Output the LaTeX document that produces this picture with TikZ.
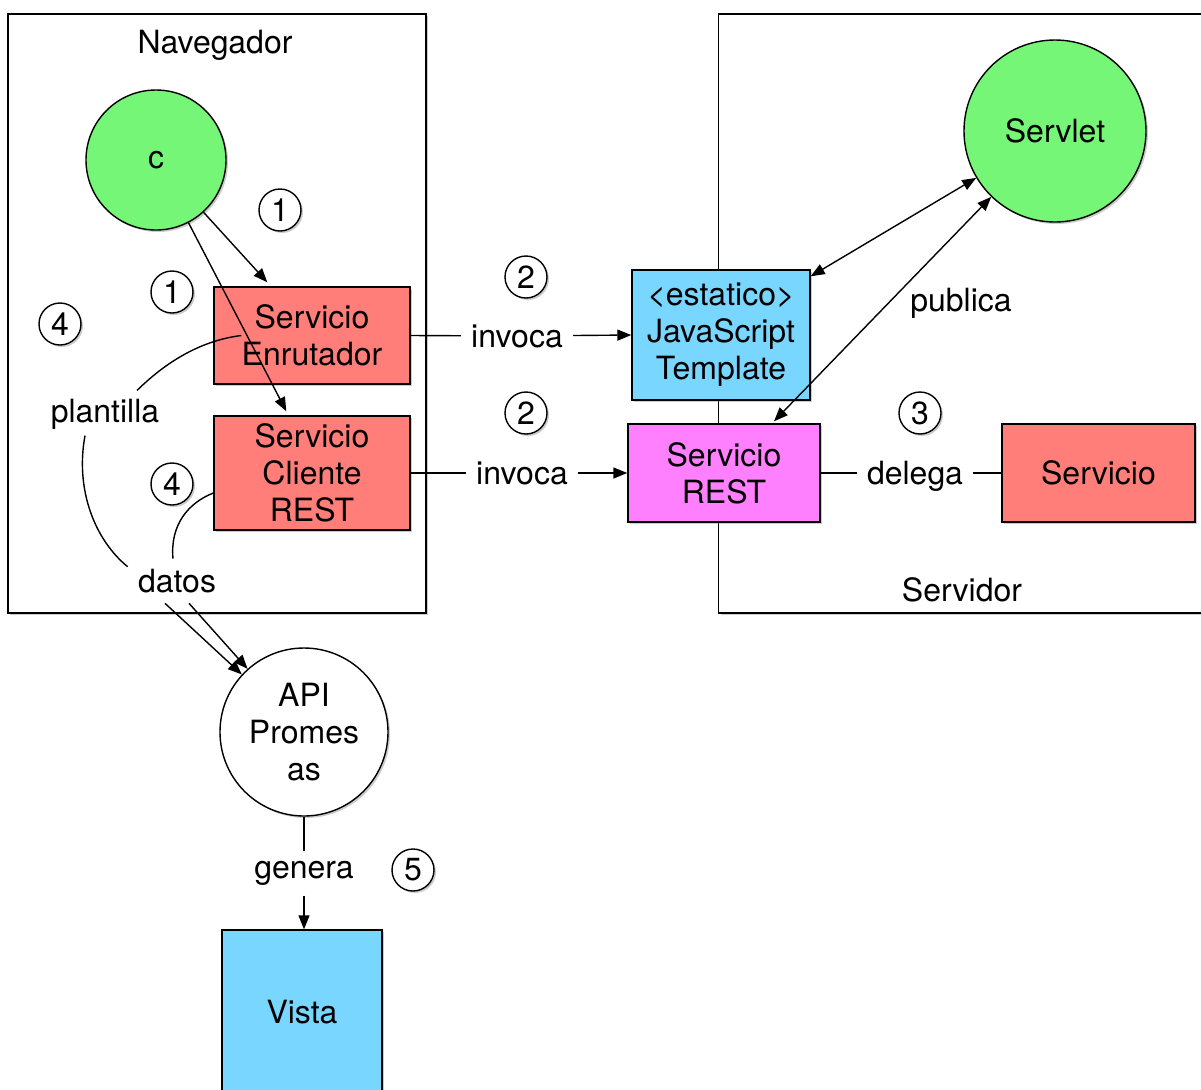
\documentclass[tikz,border=0pt]{standalone}
\usepackage{fontspec}
\setmainfont{TeX Gyre Heros}
\usetikzlibrary{arrows.meta,shadows}
\definecolor{cgreen}{RGB}{118,246,118}
\definecolor{csalmon}{RGB}{255,126,121}
\definecolor{cblue}{RGB}{120,214,255}
\definecolor{cmag}{RGB}{255,128,255}
\begin{document}
\begin{tikzpicture}[x=0.5pt,y=-0.5pt,
  font=\fontsize{16}{18.5}\selectfont,
  shad/.style={drop shadow={shadow xshift=1pt,shadow yshift=-1pt,opacity=0.4}},
  box/.style={draw,line width=0.7pt,rectangle,inner sep=2pt,align=center,shad},
  circ/.style={draw,line width=0.7pt,circle,inner sep=0pt,align=center,shad},
  num/.style={draw,circle,line width=0.7pt,minimum size=21pt,inner sep=0pt,shad,fill=white},
  lbl/.style={inner sep=5pt},
  arr/.style={-{Triangle[length=7pt,width=5.5pt]},line width=0.7pt},
  arrr/.style={{Triangle[length=7pt,width=5.5pt]}-{Triangle[length=7pt,width=5.5pt]},line width=0.7pt},
  ln/.style={line width=0.7pt}]
\useasboundingbox (0,0) rectangle (1201,1089);
\clip (0,0) rectangle (1201,1089);
\fill[white] (0,0) rectangle (1201,1089);
% containers
\node[box,fill=white,minimum width=209pt,minimum height=299.5pt] (nav) at (217,313.5) {};
\node[box,fill=white,minimum width=250pt,minimum height=299.5pt,anchor=west] (srv) at (718,313.5) {};
\node (navlbl) at (215,45) {Navegador};
\node (srvlbl) at (962,590) {Servidor};
% circles
\node[circ,fill=cgreen,minimum size=70pt] (c) at (156,160) {c};
\node[circ,fill=cgreen,minimum size=91pt] (ser) at (1055,131) {Servlet};
\node[circ,fill=white,minimum size=84pt] (api) at (304,732) {API\\Promes\\as};
% boxes
\node[box,fill=csalmon,minimum width=98pt,minimum height=48.5pt] (enr) at (312,335.5) {Servicio\\Enrutador};
\node[box,fill=csalmon,minimum width=98pt,minimum height=57pt] (cli) at (312,473) {Servicio\\Cliente\\REST};
\node[box,fill=cblue,minimum width=89pt,minimum height=65pt] (jst) at (721,335) {<estatico>\\JavaScript\\Template};
\node[box,fill=cmag,minimum width=96pt,minimum height=49pt] (rest) at (724,473) {Servicio\\REST};
\node[box,fill=csalmon,minimum width=96.5pt,minimum height=49pt] (svc) at (1098.5,473) {Servicio};
\node[box,fill=cblue,minimum width=80pt,minimum height=82.5pt] (vista) at (302,1012.5) {Vista};
% labels
\node[lbl] (plant) at (105,414) {plantilla};
\node[lbl] (datos) at (177,581) {datos};
\node[lbl] (inv1) at (517,336) {invoca};
\node[lbl] (inv2) at (522,473) {invoca};
\node[lbl] (deleg) at (915,476) {delega};
\node[lbl] (gen) at (304,873) {genera};
\node (pub) at (961,303) {publica};
% numbers
\node[num] (n1a) at (280,210) {1};
\node[num] (n1b) at (172,292) {1};
\node[num] (n4a) at (60,324) {4};
\node[num] (n4b) at (172,484) {4};
\node[num] (n2a) at (526,277) {2};
\node[num] (n2b) at (526,413) {2};
\node[num] (n3) at (920,413) {3};
\node[num] (n5) at (413,870) {5};
% connectors
\draw[arr] (c) -- ([xshift=27pt,yshift=2pt]enr.north west);
\draw[arr] (c) -- ([xshift=36.5pt,yshift=2pt]cli.north west);
\draw[ln] (enr.east) -- (inv1);
\draw[arr] (inv1) -- (jst.west);
\draw[ln] (cli.east) -- (inv2);
\draw[arr] (inv2) -- (rest.west);
\draw[ln] (rest.east) -- (rest.east -| deleg.west);
\draw[ln] (deleg.east |- svc.west) -- (svc.west);
\draw[arrr] ([yshift=-3.5pt]jst.north east) -- (ser);
\draw[arrr] ([xshift=25pt,yshift=1pt]rest.north) -- (ser);
\draw[ln] ([xshift=16pt,yshift=-1pt]plant.north) .. controls (170,358) and (205,340) .. ([xshift=14pt]enr.west);
\draw[ln] ([xshift=-10pt,yshift=2pt]plant.south) .. controls (75,490) and (95,540) .. ([yshift=-4pt]datos.north west);
\draw[ln] ([yshift=-10pt]cli.west) .. controls (188,503) and (170,525) .. ([xshift=-2pt]datos.north);
\draw[arr] ([xshift=-6pt]datos.south) -- (api);
\draw[arr] ([xshift=6pt]datos.south) -- (api);
\draw[ln] (api) -- (api.south |- gen.north);
\draw[arr] (gen) -- (gen |- vista.north);
\end{tikzpicture}
\end{document}
